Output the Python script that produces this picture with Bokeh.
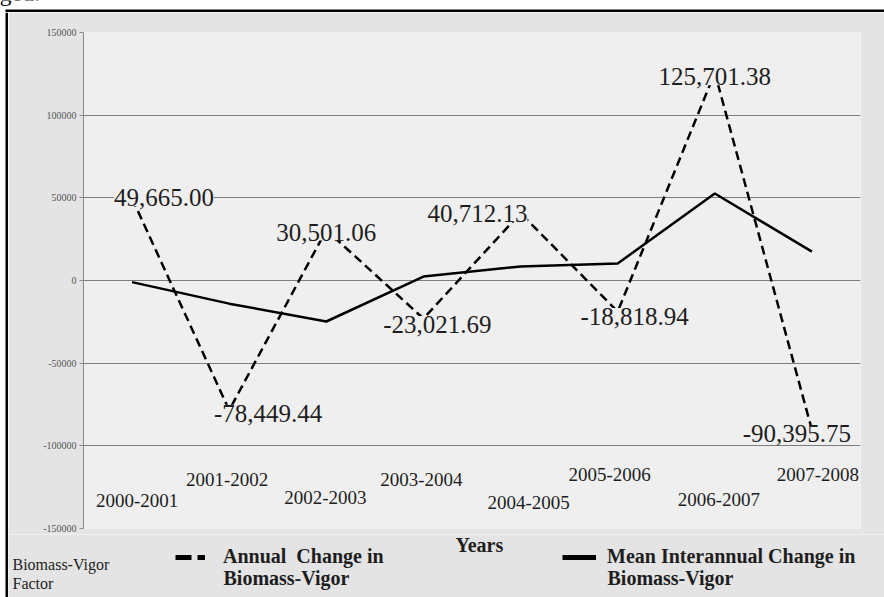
from bokeh.plotting import figure
from bokeh.layouts import column, row
from bokeh.models import (ColumnDataSource, FactorRange, Range1d, FixedTicker,
                          NumeralTickFormatter, LabelSet, Label, Legend, LegendItem,
                          BoxAnnotation)
from bokeh.embed import file_html
from bokeh.resources import INLINE

# ---- data ----
periods = ["2000-2001", "2001-2002", "2002-2003", "2003-2004",
           "2004-2005", "2005-2006", "2006-2007", "2007-2008"]
annual_change = [49665.00, -78449.44, 30501.06, -23021.69,
                 40712.13, -18818.94, 125701.38, -90395.75]
mean_change = [-1000, -14000, -24800, 2400, 8500, 10300, 52600, 17500]
y_ticks = [-150000, -100000, -50000, 0, 50000, 100000, 150000]

# ---- label placement (pixel offsets) ----
value_dx = [32, 39, 0, 14, -43, 17, 0, -15]
value_dy = [1, -3, -2, -6, 0, -5, -4, -4]
period_lift = [28, 49, 31, 49, 26, 54, 29, 54]
period_dx = [5, -2, -1, -2, 8, -8, 4, 6]

SERIF = "Liberation Serif"
INK = "#1e1e1e"
PLOT_BG = "#efefef"
MARGIN_BG = "#e4e4e4"
NAN = float("nan")


def blank(width, height, bg):
    """A bare drawing surface whose frame fills the whole canvas."""
    f = figure(width=width, height=height, x_range=Range1d(0, width),
               y_range=Range1d(0, height), x_axis_type=None, y_axis_type=None,
               output_backend="svg", toolbar_location=None,
               min_border=0, min_border_left=0, min_border_right=0,
               min_border_top=0, min_border_bottom=0, frame_align=False)
    f.grid.visible = False
    f.outline_line_color = None
    f.background_fill_color = bg
    f.border_fill_color = bg
    return f


def bar(left, right, bottom, top, color):
    return BoxAnnotation(left=left, right=right, bottom=bottom, top=top,
                         left_units="screen", right_units="screen",
                         bottom_units="screen", top_units="screen",
                         fill_color=color, fill_alpha=1, line_color=None)


# ---- page strip above the chart box (tail of the preceding paragraph) ----
top = blank(884, 12, "white")
top.add_layout(Label(x=-1, y=7, x_units="screen", y_units="screen", text="ged.",
                     text_font=SERIF, text_font_size="24px", text_color="black"))
top.add_layout(bar(5, 884, 0, 3, "black"))

# ---- left edge of the chart box ----
edge = blank(8, 585, "white")
edge.add_layout(bar(5, 8, 0, 585, "black"))

# ---- main chart ----
p = figure(width=876, height=522,
           x_range=FactorRange(factors=periods, range_padding=0),
           y_range=Range1d(y_ticks[0], y_ticks[-1]),
           output_backend="svg", toolbar_location=None,
           min_border_left=75, min_border_right=24,
           min_border_top=20, min_border_bottom=6, frame_align=False)
p.border_fill_color = MARGIN_BG
p.background_fill_color = PLOT_BG
p.outline_line_color = None

p.xaxis.visible = False
p.xgrid.visible = False

ticker = FixedTicker(ticks=y_ticks)
p.yaxis.ticker = ticker
p.yaxis.formatter = NumeralTickFormatter(format="0")
p.yaxis.major_label_text_font = SERIF
p.yaxis.major_label_text_font_size = "10px"
p.yaxis.major_label_text_color = "#555555"
p.yaxis.axis_line_color = "#8a8a8a"
p.yaxis.major_tick_line_color = "#8a8a8a"
p.yaxis.major_tick_out = 4
p.yaxis.major_tick_in = 0
p.yaxis.minor_tick_line_color = None
p.yaxis.major_label_standoff = 3
p.ygrid.ticker = ticker
p.ygrid.grid_line_color = "#7d7d7d"
p.ygrid.grid_line_width = 1

src = ColumnDataSource(dict(
    period=periods,
    annual=annual_change,
    mean=mean_change,
    label=[f"{v:,.2f}" for v in annual_change],
    vdx=value_dx, vdy=value_dy,
    base=[y_ticks[0]] * len(periods),
    lift=period_lift, pdx=period_dx,
))

p.line("period", "annual", source=src, line_color="black",
       line_width=2.5, line_dash="9 5")
p.line("period", "mean", source=src, line_color="black", line_width=2.5)

# value labels for the annual change series
p.add_layout(LabelSet(x="period", y="annual", text="label", source=src,
                      x_offset="vdx", y_offset="vdy",
                      text_align="center", text_baseline="middle",
                      text_font=SERIF, text_font_size="25px", text_color=INK,
                      background_fill_color=PLOT_BG, background_fill_alpha=1.0))

# staggered period labels inside the plot area
p.add_layout(LabelSet(x="period", y="base", text="period", source=src,
                      x_offset="pdx", y_offset="lift",
                      text_align="center", text_baseline="middle",
                      text_font=SERIF, text_font_size="19px", text_color=INK))

# ---- legend strip under the chart ----
foot = blank(876, 63, MARGIN_BG)
# key swatches only: no points to draw, they exist for the legend entries
dash_key = foot.line(x=[NAN, NAN], y=[NAN, NAN], line_color="black",
                     line_width=5, line_dash="16 6")
solid_key = foot.line(x=[NAN, NAN], y=[NAN, NAN], line_color="black", line_width=5)

legend_font = dict(text_font=SERIF, text_font_style="bold",
                   text_font_size="20px", text_color=INK)

for first, second, key, gx, gw, standoff in (
        ("Annual  Change in", "Biomass-Vigor", dash_key, 167, 30, 18),
        ("Mean Interannual Change in", "Biomass-Vigor", solid_key, 554, 34, 11)):
    foot.add_layout(Legend(items=[LegendItem(label=first, renderers=[key])],
                           location=(gx, 29), orientation="vertical",
                           background_fill_alpha=0, border_line_alpha=0,
                           label_text_font=SERIF, label_text_font_style="bold",
                           label_text_font_size="20px", label_text_color=INK,
                           glyph_width=gw, label_standoff=standoff,
                           padding=0, spacing=0, margin=0))
    foot.add_layout(Label(x=gx + gw + standoff, y=9, x_units="screen",
                          y_units="screen", text=second, **legend_font))

foot.add_layout(Label(x=447, y=42, x_units="screen", y_units="screen",
                      text="Years", **legend_font))
foot.add_layout(Label(x=4, y=42, x_units="screen", y_units="screen",
                      text="Biomass-Vigor\nFactor", text_font=SERIF,
                      text_font_size="16px", text_color=INK,
                      text_baseline="top", text_line_height=1.15))

layout = column(top, row(edge, column(p, foot, spacing=0), spacing=0), spacing=0)

open("out.html", "w").write(file_html(layout, INLINE))
